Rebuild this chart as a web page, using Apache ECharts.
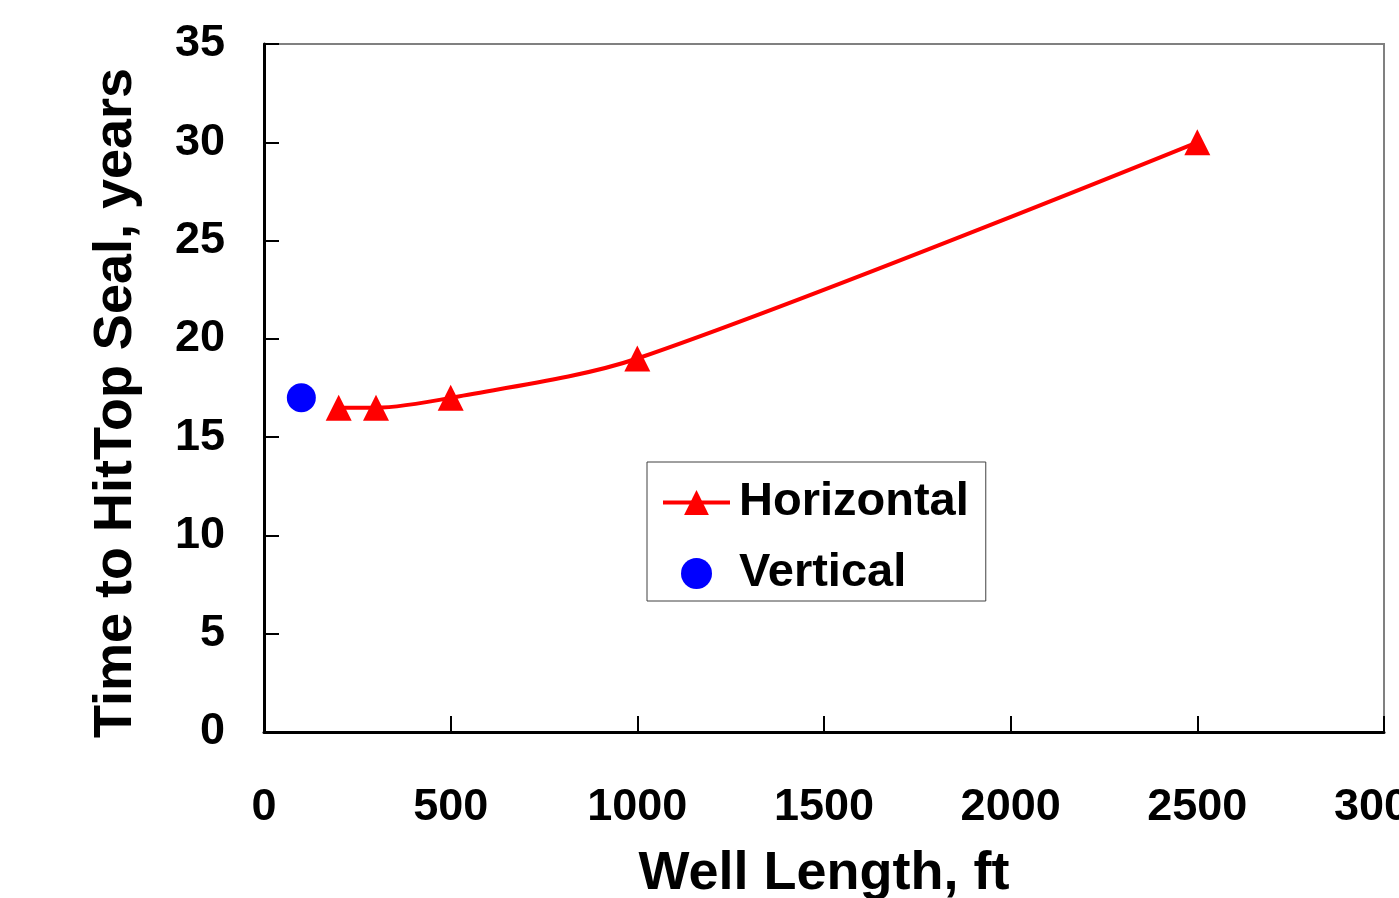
<!DOCTYPE html>
<html>
<head>
<meta charset="utf-8">
<title>Time to Hit Top Seal</title>
<script src="https://cdn.jsdelivr.net/npm/echarts@6/dist/echarts.min.js"></script>
<style>
  html, body { margin: 0; padding: 0; background: #fff; }
  #chart { width: 1399px; height: 898px; }
</style>
</head>
<body>
<div id="chart"></div>
<script>
// data
const horizontalLength = [200, 300, 500, 1000, 2500]
const horizontalYears = [16.5, 16.5, 17, 19, 30]
const verticalLength = [100]
const verticalYears = [17]

const FONT = '"Liberation Sans", Arial, sans-serif'

const chart = echarts.init(document.getElementById('chart'))

const option = {
  animation: false,
  backgroundColor: '#fff',
  grid: {
    left: 264,
    right: 15,
    top: 44,
    bottom: 166,
    outerBoundsMode: 'none',
    containLabel: false,
    show: true,
    borderColor: '#808080',
    borderWidth: 2
  },
  legend: {
    left: 647,
    top: 462,
    orient: 'vertical',
    itemWidth: 67,
    itemHeight: 31,
    itemGap: 24,
    padding: [17, 17, 4, 14],
    borderColor: '#404040',
    borderWidth: 1,
    backgroundColor: '#fff',
    lineStyle: { width: 4 },
    textStyle: {
      fontFamily: FONT,
      fontSize: 47,
      fontWeight: 'bold',
      color: '#000',
      padding: [0, 0, 0, 4]
    },
    data: ['Horizontal', 'Vertical']
  },
  xAxis: {
    type: 'value',
    min: 0,
    max: 3000,
    interval: 500,
    name: 'Well Length, ft',
    nameLocation: 'middle',
    nameGap: 115,
    nameTextStyle: { fontFamily: FONT, fontSize: 54, fontWeight: 'bold', color: '#000' },
    axisLine: { show: true, lineStyle: { color: '#000', width: 3 } },
    axisTick: { show: true, inside: true, length: 16, lineStyle: { color: '#000', width: 2 } },
    axisLabel: {
      margin: 53,
      fontFamily: FONT,
      fontSize: 45,
      fontWeight: 'bold',
      color: '#000',
      formatter: v => String(v)
    },
    splitLine: { show: false }
  },
  yAxis: {
    type: 'value',
    min: 0,
    max: 35,
    interval: 5,
    axisLine: { show: true, lineStyle: { color: '#000', width: 3 } },
    axisTick: { show: true, inside: true, length: 15, lineStyle: { color: '#000', width: 2 } },
    axisLabel: {
      margin: 39,
      fontFamily: FONT,
      fontSize: 45,
      fontWeight: 'bold',
      color: '#000',
      formatter: v => String(v)
    },
    splitLine: { show: false }
  },
  graphic: [{
    type: 'text',
    x: 116,
    y: 403,
    rotation: Math.PI / 2,
    style: {
      text: 'Time to HitTop Seal, years',
      fontFamily: FONT,
      fontSize: 54,
      fontWeight: 'bold',
      fill: '#000',
      align: 'center',
      verticalAlign: 'middle'
    }
  }],
  series: [
    {
      name: 'Horizontal',
      type: 'line',
      smooth: 0.3,
      data: horizontalLength.map((x, i) => [x, horizontalYears[i]]),
      symbol: 'triangle',
      symbolSize: 26,
      showAllSymbol: true,
      lineStyle: { color: '#ff0000', width: 4 },
      itemStyle: { color: '#ff0000', opacity: 1 }
    },
    {
      name: 'Vertical',
      type: 'scatter',
      data: verticalLength.map((x, i) => [x, verticalYears[i]]),
      symbol: 'circle',
      symbolSize: 29,
      itemStyle: { color: '#0000ff', opacity: 1 }
    }
  ]
}

chart.setOption(option)
</script>
</body>
</html>
